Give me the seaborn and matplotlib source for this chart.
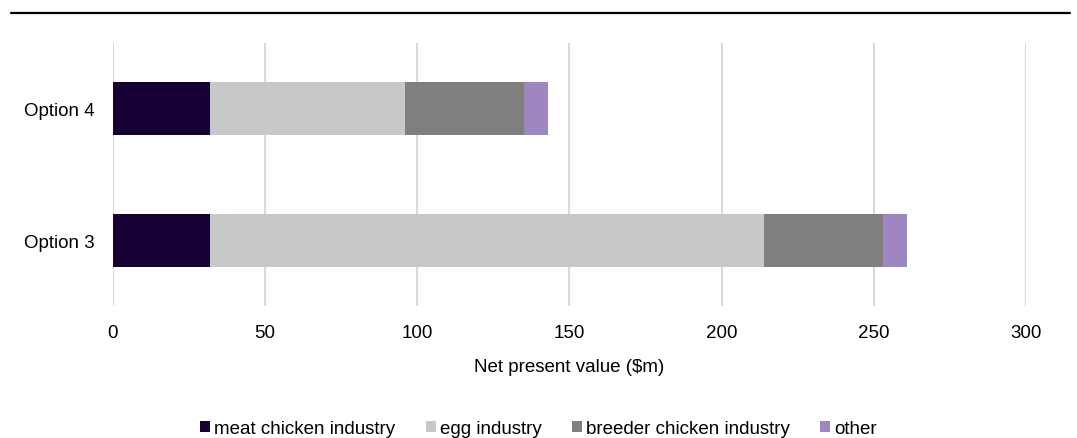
import numpy as np
import pandas as pd
import matplotlib
matplotlib.use("Agg")
import matplotlib.pyplot as plt
from matplotlib.lines import Line2D
from matplotlib.patches import Patch
import seaborn as sns

# Net present value by sector ($m)
options = ["Option 4", "Option 3"]
meat_chicken = [32, 32]
egg = [64, 182]
breeder_chicken = [39, 39]
other = [8, 8]

series_names = ["meat chicken industry", "egg industry", "breeder chicken industry", "other"]
series_values = [meat_chicken, egg, breeder_chicken, other]
series_colors = ["#170034", "#c8c8c8", "#7f7f7f", "#9e87c0"]

x_ticks = [0, 50, 100, 150, 200, 250, 300]

sns.set_theme(style="white")
plt.rcParams["font.family"] = ["Liberation Sans", "DejaVu Sans"]
plt.rcParams["text.color"] = "black"

FS = 13.5

fig = plt.figure(figsize=(10.77, 4.39), dpi=100)
ax = fig.add_axes([0.1049, 0.3007, 0.8477, 0.5991])

# stacked bars: draw cumulative totals from the outermost segment inwards
cum = np.cumsum(np.array(series_values, dtype=float), axis=0)
for i in reversed(range(len(series_names))):
    df = pd.DataFrame({"option": options, "value": cum[i]})
    sns.barplot(data=df, x="value", y="option", order=options, orient="h",
                color=series_colors[i], width=0.4, saturation=1,
                linewidth=0, ax=ax, zorder=3)

ax.set_xlim(0, 300)
ax.set_ylim(1.5, -0.5)
ax.set_xticks(x_ticks)
ax.set_xticklabels([str(t) for t in x_ticks])
ax.grid(axis="x", color="#d9d9d9", linewidth=1.5, zorder=0)
ax.grid(axis="y", visible=False)
for s in ax.spines.values():
    s.set_visible(False)
ax.tick_params(axis="both", length=0, labelsize=FS, colors="black")
ax.tick_params(axis="x", pad=13)
ax.tick_params(axis="y", pad=13)
ax.set_ylabel("")
ax.set_xlabel("Net present value ($m)", fontsize=FS, color="black", labelpad=12)

handles = [Patch(facecolor=c, edgecolor="none") for c in series_colors]
fig.legend(handles, series_names, loc="center", bbox_to_anchor=(0.5, 0.022),
           ncol=4, frameon=False, fontsize=FS, labelcolor="black",
           handlelength=0.55, handleheight=0.55,
           handletextpad=0.22, columnspacing=1.6, borderpad=0.2)

# rule across the top of the figure
fig.add_artist(Line2D([0.0102, 0.9935], [0.968, 0.968], color="black", linewidth=1.6,
                      transform=fig.transFigure))

fig.savefig("out.png", dpi=100)
